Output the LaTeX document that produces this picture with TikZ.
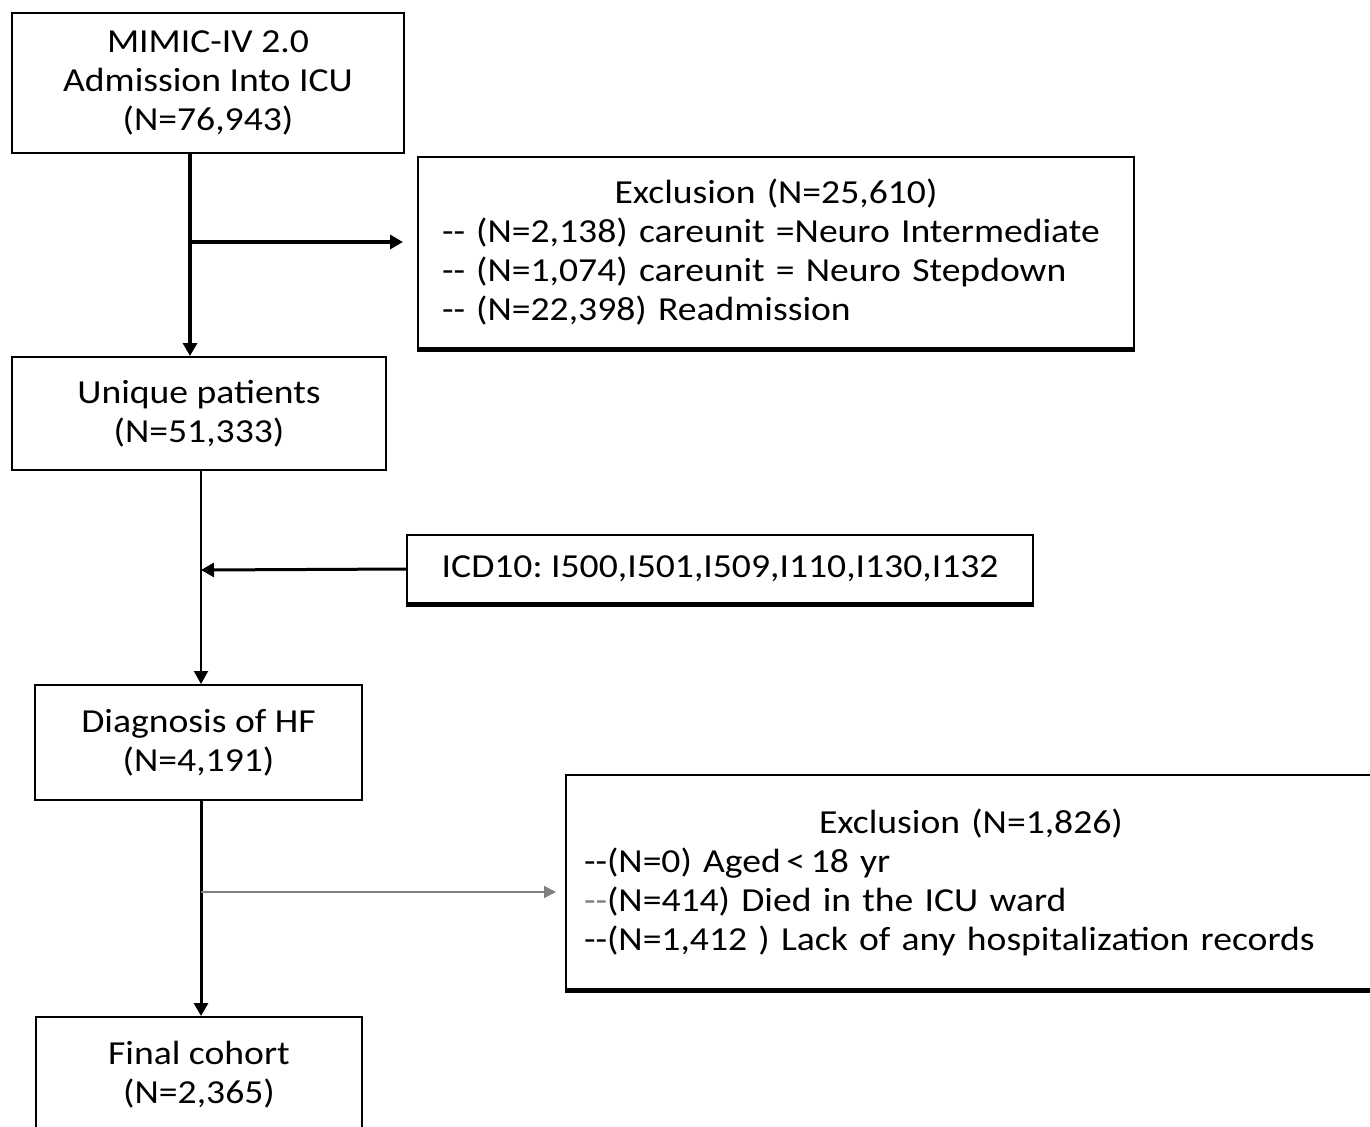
\documentclass[tikz,border=0pt]{standalone}
\usepackage{fontspec}
\setmainfont[FakeStretch=1.12]{Carlito}
\usetikzlibrary{arrows.meta}
\tikzset{
	box/.style={draw, line width=1pt, inner sep=0pt, align=center, font=\fontsize{16.8}{19.5}\selectfont\frenchspacing},
	flow/.style={line width=#1, -{Triangle[width=7pt,length=6.5pt]}},
	base/.style={line width=2.5pt},
}
\begin{document}
\begin{tikzpicture}[x=0.5pt,y=-0.5pt]
		\useasboundingbox (0,0) rectangle (1370,1126);
		\clip (0,0) rectangle (1370,1126);
		\node[box, minimum width=196pt, minimum height=70pt] (adm) at (208,83) {MIMIC-IV 2.0\\Admission Into ICU\\(N=76,943)};
		\node[box, minimum width=358pt, minimum height=95.5pt, text width=334pt, align=left] (exA) at (776,252.5) {\hfill Exclusion (N=25,610)\hfill\null\\-{}- (N=2,138) careunit =Neuro Intermediate\\-{}- (N=1,074) careunit = Neuro Stepdown\\-{}- (N=22,398) Readmission};
		\node[box, minimum width=187pt, minimum height=56.5pt] (uniq) at (199,413.5) {Unique patients\\(N=51,333)};
		\node[box, minimum width=313pt, minimum height=34pt] (icd) at (720,569) {ICD10: I500,I501,I509,I110,I130,I132};
		\node[box, minimum width=163.5pt, minimum height=57.5pt] (hf) at (198.5,742.5) {Diagnosis of HF\\(N=4,191)};
		\node[box, minimum width=405pt, minimum height=107pt, text width=387pt, align=left] (exB) at (971,882) {\hfill Exclusion (N=1,826)\hfill\null\\-{}-(N=0) Aged\,{<}\,18 yr\\{\color{gray}-{}-}(N=414) Died in the ICU ward\\-{}-(N=1,412 ) Lack of any hospitalization records};
		\node[box, minimum width=163pt, minimum height=57.5pt] (fin) at (199,1074.5) {Final cohort\\(N=2,365)};
		\draw[base] (exA.south west) -- (exA.south east);
		\draw[base] (icd.south west) -- (icd.south east);
		\draw[base] (exB.south west) -- (exB.south east);
		\coordinate (j1) at (190,242);
		\coordinate (j2) at (201,570);
		\coordinate (j3) at (201,892);
		\draw[flow=2pt] (j1 |- adm.south) -- (j1 |- uniq.north);
		\draw[flow=2pt] (j1) -- (403,242);
		\draw[line width=1pt] (j2 |- uniq.south) -- (j2);
		\draw[flow=1pt] (j2) -- (j2 |- hf.north);
		\draw[flow=1.5pt] (icd.west) -- (j2);
		\draw[flow=1.5pt] (j3 |- hf.south) -- (j3 |- fin.north);
		\draw[gray, line width=0.8pt, -{Triangle[width=6pt,length=6pt]}] (j3) -- (556,892);
	\end{tikzpicture}
\end{document}
